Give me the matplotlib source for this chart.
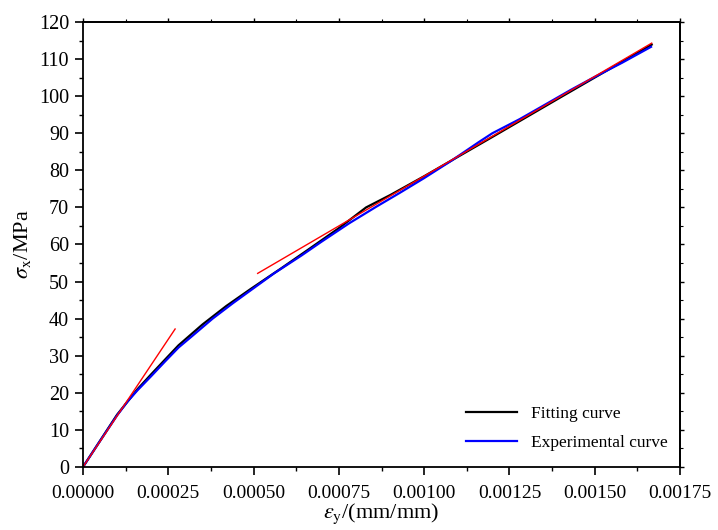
import matplotlib.pyplot as plt
from matplotlib.ticker import MultipleLocator, FuncFormatter

plt.rcParams['font.family'] = ['Liberation Serif', 'DejaVu Serif']
plt.rcParams['mathtext.fontset'] = 'stix'

# experimental curve (blue)
exp_strain = [0, 0.00005, 0.0001, 0.00013, 0.00016, 0.0002, 0.00024, 0.00028,
              0.00032, 0.00038, 0.00044, 0.0005, 0.00056, 0.00064, 0.0007,
              0.00078, 0.00086, 0.00093, 0.001, 0.00108, 0.00116, 0.0012,
              0.00128, 0.00136, 0.00143, 0.0015, 0.00158, 0.001665]
exp_stress = [0, 7.0, 13.9, 17.6, 20.7, 24.5, 28.4, 32.2,
              35.3, 40.0, 44.2, 48.2, 52.2, 57.0, 60.8,
              65.7, 70.2, 74.0, 77.9, 82.6, 87.6, 90.0,
              93.8, 98.0, 101.7, 105.2, 109.0, 113.3]

# fitting curve (black)
fit_strain = [0, 0.0001, 0.00016, 0.0002, 0.00028, 0.00035, 0.00042, 0.00049,
              0.00058, 0.00066, 0.00075, 0.00083, 0.0009, 0.001, 0.0012,
              0.0014, 0.001667]
fit_stress = [0, 14.1, 21.0, 25.0, 32.8, 38.4, 43.4, 47.9,
              53.5, 58.6, 64.4, 70.0, 73.3, 78.4, 89.0,
              99.7, 113.9]

# tangent lines (red)
tan1_strain = [0, 0.00027]
tan1_stress = [0, 37.2]
tan2_strain = [0.000512, 0.001667]
tan2_stress = [52.2, 114.3]

fig = plt.figure(figsize=(7.18, 5.3), dpi=100)
ax = fig.add_axes([0.1156, 0.119, 0.8315, 0.8395])

ax.plot(fit_strain, fit_stress, color='black', lw=1.6, label='Fitting curve')
ax.plot(exp_strain, exp_stress, color='blue', lw=1.6, label='Experimental curve')
ax.plot(tan1_strain, tan1_stress, color='red', lw=1.0)
ax.plot(tan2_strain, tan2_stress, color='red', lw=1.0)

ax.set_xlim(0, 0.00175)
ax.set_ylim(0, 120)
ax.xaxis.set_major_locator(MultipleLocator(0.00025))
ax.xaxis.set_minor_locator(MultipleLocator(0.000125))
ax.yaxis.set_major_locator(MultipleLocator(10))
ax.yaxis.set_minor_locator(MultipleLocator(5))
ax.xaxis.set_major_formatter(FuncFormatter(lambda v, p: f'{v:.5f}'))

for s in ax.spines.values():
    s.set_linewidth(1.3)

ax.tick_params(which='major', direction='out', length=6, width=1.2)
ax.tick_params(which='minor', direction='out', length=3, width=1.0)
ax.tick_params(axis='x', which='major', labelsize=14, pad=7)
ax.tick_params(axis='y', which='major', labelsize=14.5, pad=4)

# short ticks on the top and right edges
top = ax.secondary_xaxis('top')
top.xaxis.set_major_locator(MultipleLocator(0.00025))
top.xaxis.set_minor_locator(MultipleLocator(0.000125))
top.tick_params(which='major', direction='out', length=3, width=1.0, labeltop=False)
top.tick_params(which='minor', direction='out', length=2, width=0.8)
top.spines['top'].set_linewidth(1.3)
right = ax.secondary_yaxis('right')
right.yaxis.set_major_locator(MultipleLocator(10))
right.yaxis.set_minor_locator(MultipleLocator(5))
right.tick_params(which='major', direction='out', length=3, width=1.0, labelright=False)
right.tick_params(which='minor', direction='out', length=2, width=0.8)
right.spines['right'].set_linewidth(1.3)

ax.set_xlabel(r'$\varepsilon_{\rm y}$/(mm/mm)', fontsize=16, labelpad=0)
ax.set_ylabel(r'$\sigma_{\rm x}$/MPa', fontsize=16, labelpad=4)

ax.legend(loc='lower right', bbox_to_anchor=(1.005, 0), frameon=False,
          fontsize=12.5, handlelength=2.9, handletextpad=0.8, labelspacing=0.75)

fig.savefig('out.png', dpi=100)
